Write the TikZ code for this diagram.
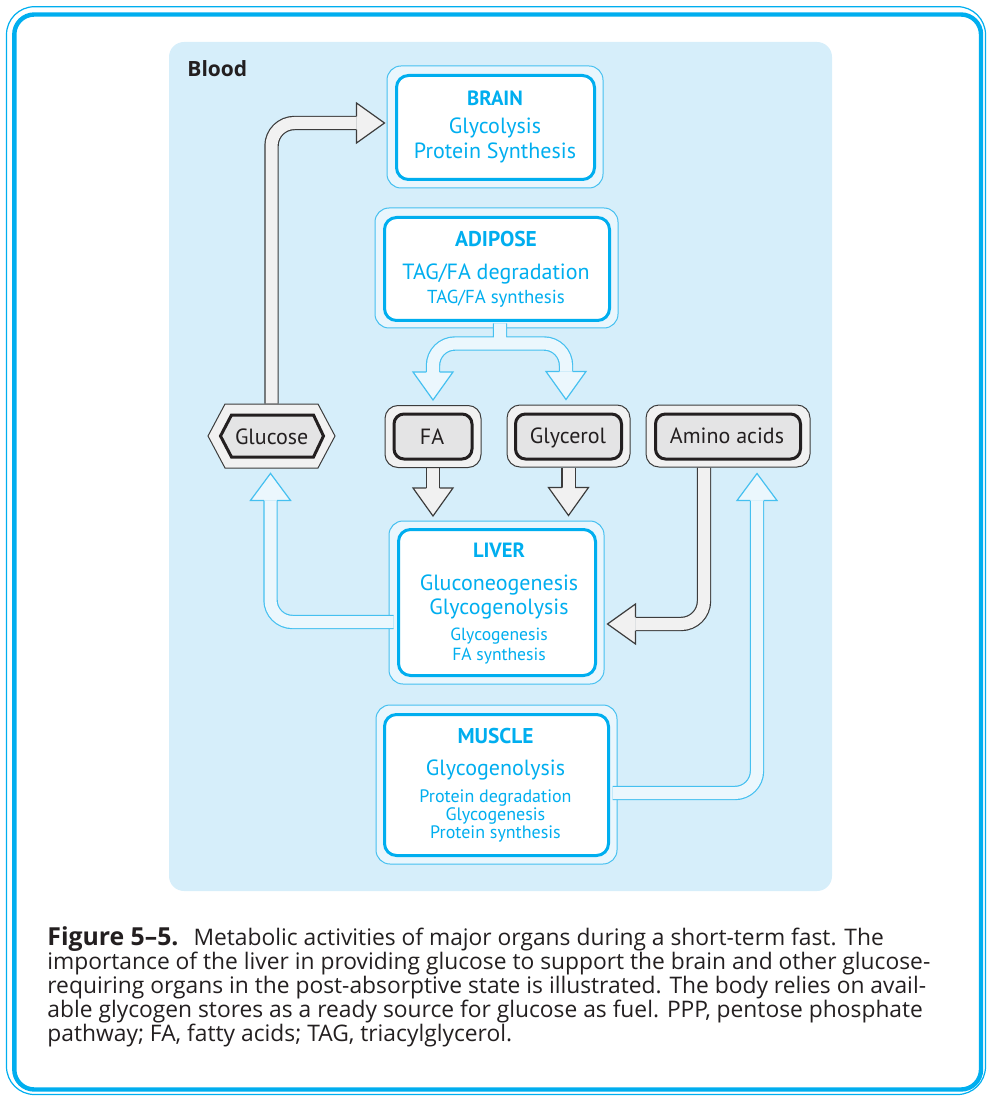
\documentclass[tikz,border=0pt]{standalone}
\usepackage{fontspec}
\setmainfont{PT Sans}
\newfontfamily\capfont{Open Sans}
\usetikzlibrary{calc}
\pgfdeclarelayer{back}
\pgfdeclarelayer{pipes}
\pgfsetlayers{back,pipes,main}
\definecolor{cy}{HTML}{00AEEF}
\definecolor{cyl}{HTML}{45C0F0}
\definecolor{bloodc}{HTML}{D6EEFA}
\definecolor{frm}{HTML}{E9F6FD}
\definecolor{lpfill}{HTML}{EBF7FD}
\definecolor{gfill}{HTML}{F1F1F1}
\definecolor{ginc}{HTML}{E4E4E5}
\definecolor{gline}{HTML}{3C3C3C}
\definecolor{ink}{HTML}{231F20}
\tikzset{
 framebox/.style={draw=cyl, line width=0.5pt, fill=frm, rounded corners=7pt, inner sep=0pt},
 organbox/.style={draw=cy, line width=1.5pt, fill=white, rounded corners=6pt, inner sep=0pt},
 goutbox/.style={draw=gline, line width=0.5pt, fill=gfill, rounded corners=6.5pt, inner sep=0pt, minimum height=31pt},
 ginbox/.style={draw=ink, line width=1.5pt, fill=ginc, rounded corners=5pt, inner sep=0pt, minimum height=22.5pt},
 graypipe/.style={draw=gline, line width=0.6pt, double=gfill, double distance=6pt, rounded corners=11.5pt},
 lightpipe/.style={draw=cyl, line width=0.6pt, double=lpfill, double distance=6pt, rounded corners=11pt},
 grayhead/.style={fill=gfill, draw=gline, line width=0.6pt, line join=miter},
 lighthead/.style={fill=lpfill, draw=cyl, line width=0.6pt, line join=miter},
 ttl/.style={text=cy, anchor=base, inner sep=0pt, font=\bfseries\fontsize{10.7}{12}\selectfont},
 itm/.style={text=cy, anchor=base, inner sep=0pt, font=\fontsize{11}{12}\selectfont},
 glabel/.style={text=ink, anchor=base, inner sep=0pt, font=\fontsize{11}{13}\selectfont},
 capline/.style={text=ink, anchor=base west, inner sep=0pt, font=\capfont\fontsize{11.4}{12}\selectfont}
}
\newcommand{\ahd}[4]{\begin{scope}[shift={#2},rotate=#3]\filldraw[#1] (-#4,6.6) -- (-#4,20) -- (0,0) -- (-#4,-20) -- (-#4,-6.6);\end{scope}}
\begin{document}
\begin{tikzpicture}[x=0.5pt,y=-0.5pt]
\useasboundingbox (0,0) rectangle (987,1096);
\begin{pgfonlayer}{back}
 \draw[cy, line width=0.6pt, rounded corners=14pt] (6.5,6.7) rectangle (985.5,1094.5);
 \draw[cy, line width=2.2pt, rounded corners=10pt] (14.3,14.5) rectangle (981,1089.5);
 \fill[bloodc, rounded corners=7.5pt] (169,42) rectangle (832,891);
 \node[framebox, minimum width=108pt, minimum height=61pt] (brain) at (495,127) {};
 \node[framebox, minimum width=121.5pt, minimum height=60pt] (adipose) at (496.5,268) {};
 \node[framebox, minimum width=107.5pt, minimum height=81.5pt] (liver) at (496.5,602.5) {};
 \node[framebox, minimum width=120.5pt, minimum height=79.5pt] (muscle) at (496.5,784.5) {};
\end{pgfonlayer}
% Blood label
\node[text=ink, anchor=base west, inner sep=0pt, font=\capfont\bfseries\fontsize{10.5}{12}\selectfont] (bloodT) at (187,77) {Blood};
% organ inner boxes
\node[organbox, minimum width=99pt, minimum height=52pt] (brainI) at (495.5,127.5) {};
\node[organbox, minimum width=112.5pt, minimum height=51.5pt] (adiposeI) at (497,269) {};
\node[organbox, minimum width=98.5pt, minimum height=73pt] (liverI) at (497,602.5) {};
\node[organbox, minimum width=112pt, minimum height=70.5pt] (muscleI) at (496.5,785) {};
% organ texts
\node[ttl, font=\bfseries\fontsize{10.3}{12}\selectfont] (brainT) at (495,105.7) {BRAIN};
\node[itm] (brain1) at (495,134) {Glycolysis};
\node[itm] (brain2) at (495,159) {Protein Synthesis};
\node[ttl] (adiposeT) at (496,246.7) {ADIPOSE};
\node[itm] (adipose1) at (496,280) {TAG/FA degradation};
\node[itm, font=\fontsize{9.4}{11}\selectfont] (adipose2) at (496,303.3) {TAG/FA synthesis};
\node[ttl, font=\bfseries\fontsize{10.3}{12}\selectfont] (liverT) at (499,557.7) {LIVER};
\node[itm] (liver1) at (499,590) {Gluconeogenesis};
\node[itm] (liver2) at (499,614) {Glycogenolysis};
\node[itm, font=\fontsize{8.8}{10}\selectfont] (liver3) at (499,640) {Glycogenesis};
\node[itm, font=\fontsize{8.8}{10}\selectfont] (liver4) at (499,660.7) {FA synthesis};
\node[ttl] (muscleT) at (495.5,743.3) {MUSCLE};
\node[itm] (muscle1) at (495.5,775) {Glycogenolysis};
\node[itm, font=\fontsize{9}{11}\selectfont] (muscle2) at (495.5,802.7) {Protein degradation};
\node[itm, font=\fontsize{9}{11}\selectfont] (muscle3) at (495.5,820) {Glycogenesis};
\node[itm, font=\fontsize{9}{11}\selectfont] (muscle4) at (495.5,838.7) {Protein synthesis};
% gray boxes
\node[minimum width=63.5pt, minimum height=32pt, inner sep=0pt] (glucose) at (271.5,436) {};
\begin{scope}[shift={(glucose.center)}]
 \filldraw[fill=gfill, draw=gline, line width=0.5pt, line join=miter] (-63.5,0) -- (-46.5,-32) -- (46.5,-32) -- (63.5,0) -- (46.5,32) -- (-46.5,32) -- cycle;
 \filldraw[fill=ginc, draw=ink, line width=1.5pt, line join=miter] (-51,0) -- (-40,-21) -- (42,-21) -- (52,0) -- (42,21) -- (-40,21) -- cycle;
\end{scope}
\node[glabel] (glucoseT) at (271.7,444) {Glucose};
\node[goutbox, minimum width=48pt] (fa) at (433,436.5) {};
\node[ginbox, minimum width=39pt] (faI) at (433,436.5) {};
\node[glabel] (faT) at (432,444) {FA};
\node[goutbox, minimum width=61.5pt] (glycerol) at (568.5,436) {};
\node[ginbox, minimum width=53pt] (glycerolI) at (568.5,436.5) {};
\node[glabel] (glycerolT) at (568,443.5) {Glycerol};
\node[goutbox, minimum width=82pt] (amino) at (728,436) {};
\node[ginbox, minimum width=72.5pt] (aminoI) at (728,436.5) {};
\node[glabel] (aminoT) at (727,443.5) {Amino acids};
% connectors
\begin{pgfonlayer}{pipes}
 \draw[graypipe] (glucose.north) |- ($(brain.west)+(-30,-4)$);
 \ahd{grayhead}{($(brain.west)+(-2,-4)$)}{0}{28}
 \draw[graypipe] (fa.south) -- ($(fa.south)+(0,20)$);
 \ahd{grayhead}{($(fa.south)+(0,48)$)}{-90}{28}
 \draw[graypipe] (glycerol.south) -- ($(glycerol.south)+(0,20)$);
 \ahd{grayhead}{($(glycerol.south)+(0,48)$)}{-90}{28}
 \draw[graypipe] ($(amino.south)+(-24,0)$) |- ($(liver.east)+(31,21.5)$);
 \ahd{grayhead}{($(liver.east)+(3,21.5)$)}{180}{28}
 \draw[lightpipe] ($(liver.west)+(5,19.5)$) -| ($(glucose.south)+(-1,32)$);
 \ahd{lighthead}{($(glucose.south)+(-1,5)$)}{90}{27}
 \draw[lightpipe] ($(muscle.east)+(-5,8.5)$) -| ($(amino.south)+(29,33)$);
 \ahd{lighthead}{($(amino.south)+(29,6)$)}{90}{27}
 \draw[lightpipe] ($(adipose.south)+(3.5,-5)$) -- ($(adipose.south)+(3.5,16)$)
   ($(fa.north)+(0,-33)$) |- ($(glycerol.north)+(-2.5,-61)$) -- ($(glycerol.north)+(-2.5,-33)$);
 \ahd{lighthead}{($(fa.north)+(0,-5)$)}{-90}{28}
 \ahd{lighthead}{($(glycerol.north)+(-2.5,-5)$)}{-90}{28}
\end{pgfonlayer}
% caption
\node[capline] (cap1) at (47,945) {{\bfseries\fontsize{12.4}{12}\selectfont Figure 5–5.}\hspace{7.5pt}Metabolic activities of major organs during a short-term fast. The};
\node[capline] (cap2) at (47,969) {importance of the liver in providing glucose to support the brain and other glucose-};
\node[capline] (cap3) at (47,993) {requiring organs in the post-absorptive state is illustrated. The body relies on avail-};
\node[capline] (cap4) at (47,1017) {able glycogen stores as a ready source for glucose as fuel. PPP, pentose phosphate};
\node[capline] (cap5) at (47,1041) {pathway; FA, fatty acids; TAG, triacylglycerol.};
\end{tikzpicture}
\end{document}
